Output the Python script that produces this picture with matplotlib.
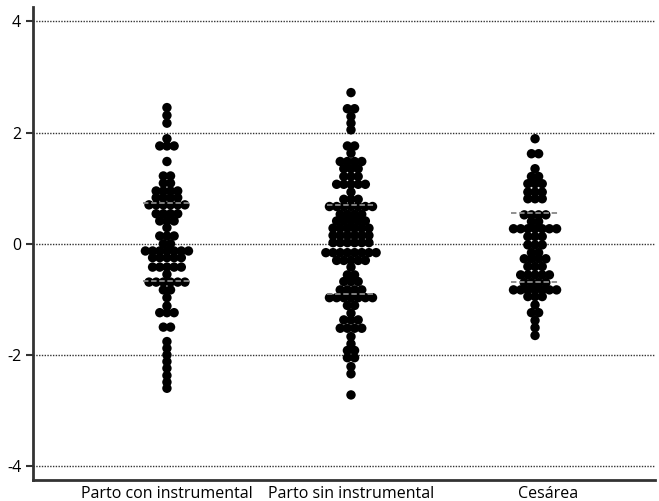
import numpy as np
import matplotlib
matplotlib.use('Agg')
import matplotlib.pyplot as plt

categories = ['Parto con instrumental', 'Parto sin instrumental', 'Cesárea']

# row levels (y) and number of dots in each row
g1_levels = [2.45, 2.31, 2.17, 1.89, 1.76, 1.48, 1.22, 1.09, 0.95, 0.83, 0.70, 0.54,
             0.41, 0.29, 0.14, 0.0, -0.13, -0.25, -0.42, -0.55, -0.69, -0.83, -0.97,
             -1.12, -1.24, -1.50, -1.76, -1.88, -2.0, -2.12, -2.24, -2.37, -2.49, -2.6]
g1_counts = [1, 1, 1, 1, 3, 1, 2, 2, 4, 4, 6, 4,
             3, 1, 3, 2, 7, 5, 5, 1, 6, 2, 1,
             1, 3, 2, 1, 1, 1, 1, 1, 1, 1, 1]

g2_levels = [2.72, 2.43, 2.29, 2.17, 2.05, 1.76, 1.63, 1.48, 1.35, 1.21, 1.07, 0.93,
             0.80, 0.67, 0.53, 0.41, 0.28, 0.15, 0.02, -0.16, -0.30, -0.42, -0.56,
             -0.68, -0.83, -0.97, -1.11, -1.25, -1.37, -1.52, -1.67, -1.80, -1.92,
             -2.05, -2.21, -2.34, -2.72]
g2_counts = [1, 2, 1, 1, 1, 2, 1, 4, 3, 3, 5, 1,
             3, 7, 4, 5, 6, 6, 6, 8, 5, 1, 2,
             3, 4, 7, 2, 1, 3, 4, 1, 1, 2,
             2, 1, 1, 1]

g3_levels = [1.89, 1.62, 1.35, 1.21, 1.08, 0.93, 0.81, 0.52, 0.40, 0.27, 0.13, -0.02,
             -0.16, -0.27, -0.41, -0.56, -0.70, -0.83, -0.95, -1.10, -1.24, -1.38,
             -1.51, -1.65]
g3_counts = [1, 2, 1, 2, 3, 3, 3, 4, 2, 7, 3, 3,
             2, 4, 3, 5, 4, 7, 3, 1, 2, 1,
             1, 1]

# dashed reference lines (upper / lower) per group
upper_lines = [0.74, 0.70, 0.56]
lower_lines = [-0.67, -0.90, -0.68]

groups = [(g1_levels, g1_counts), (g2_levels, g2_counts), (g3_levels, g3_counts)]


def make_plot():
    fig = plt.figure(figsize=(6.59, 5.01), dpi=100)
    ax = fig.add_axes([0.050, 0.042, 0.944, 0.944])

    for yv in [-4, -2, 0, 2, 4]:
        ax.axhline(yv, color='#333333', lw=1.0, ls=(0, (1, 1)), zorder=1)

    spacing = 0.039
    for i, (levels, counts) in enumerate(groups):
        xs, ys = [], []
        for lv, n in zip(levels, counts):
            for k in range(n):
                xs.append(i + (k - (n - 1) / 2) * spacing)
                ys.append(lv)
        ax.scatter(xs, ys, s=46, color='black', edgecolors='none', zorder=3)
        for yv in (upper_lines[i], lower_lines[i]):
            ax.plot([i - 0.13, i + 0.13], [yv, yv], color='#888888', lw=1.3,
                    ls=(0, (3, 1.5)), zorder=4)

    ax.set_xlim(-0.728, 2.652)
    ax.set_ylim(-4.25, 4.26)
    ax.set_yticks([-4, -2, 0, 2, 4])
    ax.set_yticklabels(['-4', '-2', '0', '2', '4'])
    ax.set_xticks([0, 1, 2.07])
    ax.set_xticklabels(categories)
    ax.tick_params(axis='x', length=0, pad=4, labelsize=11.5)
    ax.tick_params(axis='y', length=5, width=1.5, color='#333333', labelsize=11.5)
    for lab in ax.get_xticklabels() + ax.get_yticklabels():
        lab.set_fontfamily('Open Sans')
    ax.spines['top'].set_visible(False)
    ax.spines['right'].set_visible(False)
    ax.spines['left'].set_color('#333333')
    ax.spines['left'].set_linewidth(2)
    ax.spines['bottom'].set_color('#333333')
    ax.spines['bottom'].set_linewidth(2)

    fig.savefig('out.png', dpi=100)


if __name__ == '__main__':
    make_plot()
